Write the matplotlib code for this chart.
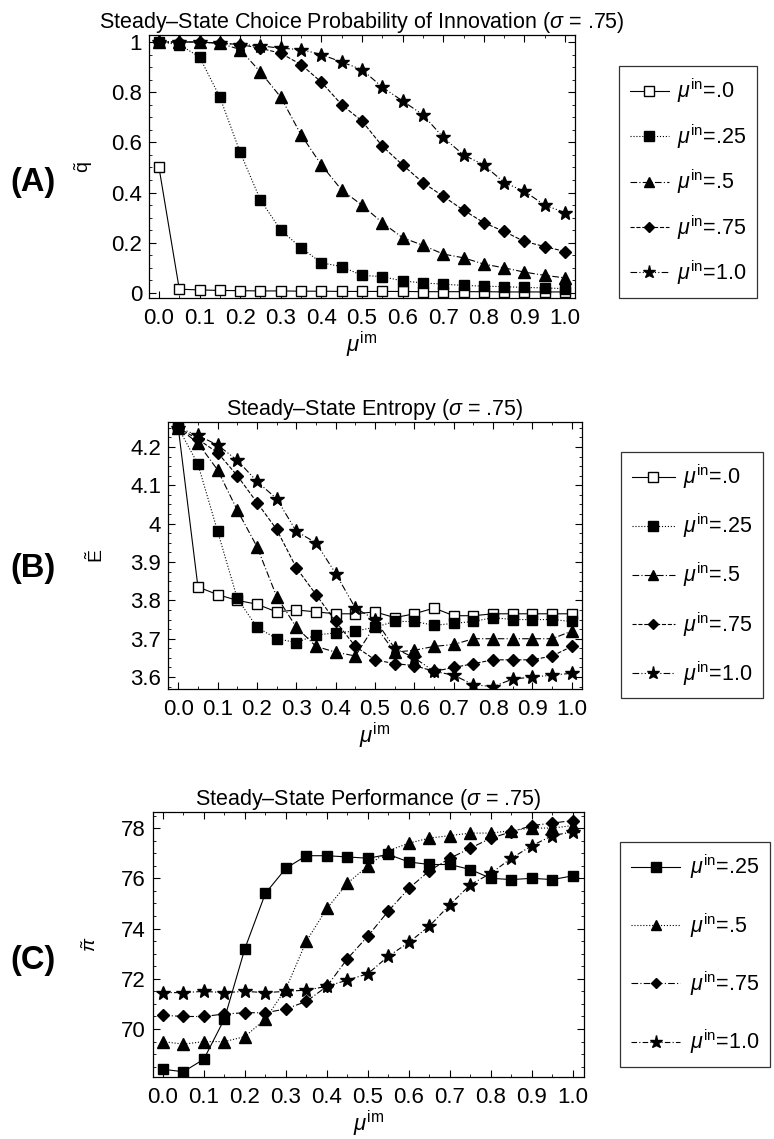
import matplotlib
matplotlib.use("Agg")
import matplotlib.pyplot as plt
from matplotlib.ticker import AutoMinorLocator, MultipleLocator

plt.rcParams['font.family'] = ['Liberation Sans', 'DejaVu Sans']
plt.rcParams['mathtext.fontset'] = 'custom'
plt.rcParams['mathtext.rm'] = 'Liberation Sans'
plt.rcParams['mathtext.it'] = 'Liberation Sans:italic'

mu_im = [0.0, 0.05, 0.1, 0.15, 0.2, 0.25, 0.3, 0.35, 0.4, 0.45, 0.5,
         0.55, 0.6, 0.65, 0.7, 0.75, 0.8, 0.85, 0.9, 0.95, 1.0]
x_ticks = [0.0, 0.1, 0.2, 0.3, 0.4, 0.5, 0.6, 0.7, 0.8, 0.9, 1.0]

# (A) choice probability of innovation
q_00 = [0.5, 0.015, 0.012, 0.01, 0.009, 0.008, 0.008, 0.007, 0.007, 0.006, 0.006,
        0.006, 0.006, 0.005, 0.005, 0.005, 0.005, 0.004, 0.004, 0.004, 0.004]
q_25 = [1.0, 0.99, 0.94, 0.78, 0.56, 0.37, 0.25, 0.18, 0.12, 0.105, 0.07,
        0.065, 0.048, 0.04, 0.035, 0.03, 0.027, 0.025, 0.022, 0.02, 0.017]
q_50 = [1.0, 1.0, 1.0, 0.995, 0.97, 0.88, 0.78, 0.63, 0.51, 0.41, 0.35,
        0.28, 0.22, 0.19, 0.155, 0.14, 0.115, 0.1, 0.083, 0.07, 0.06]
q_75 = [1.0, 1.0, 1.0, 0.995, 0.99, 0.975, 0.955, 0.91, 0.84, 0.75, 0.685,
        0.585, 0.51, 0.44, 0.385, 0.33, 0.28, 0.245, 0.205, 0.185, 0.165]
q_100 = [1.0, 1.0, 1.0, 0.995, 0.99, 0.985, 0.975, 0.97, 0.95, 0.92, 0.89,
         0.82, 0.765, 0.71, 0.62, 0.55, 0.51, 0.44, 0.405, 0.35, 0.32]

# (B) entropy
e_00 = [4.25, 3.835, 3.815, 3.80, 3.79, 3.77, 3.775, 3.77, 3.765, 3.765, 3.77,
        3.755, 3.765, 3.78, 3.76, 3.76, 3.765, 3.765, 3.765, 3.765, 3.765]
e_25 = [4.25, 4.155, 3.98, 3.805, 3.73, 3.70, 3.69, 3.71, 3.715, 3.72, 3.73,
        3.745, 3.745, 3.735, 3.74, 3.745, 3.755, 3.75, 3.75, 3.75, 3.745]
e_50 = [4.25, 4.21, 4.14, 4.035, 3.94, 3.81, 3.73, 3.68, 3.665, 3.655, 3.735,
        3.665, 3.67, 3.68, 3.685, 3.70, 3.70, 3.70, 3.70, 3.70, 3.72]
e_75 = [4.25, 4.22, 4.185, 4.125, 4.055, 3.985, 3.885, 3.815, 3.745, 3.68, 3.645,
        3.635, 3.63, 3.615, 3.625, 3.635, 3.645, 3.645, 3.645, 3.655, 3.68]
e_100 = [4.25, 4.23, 4.205, 4.165, 4.11, 4.065, 3.98, 3.95, 3.87, 3.78, 3.75,
         3.675, 3.65, 3.615, 3.605, 3.58, 3.575, 3.595, 3.60, 3.605, 3.61]

# (C) performance
p_25 = [68.4, 68.3, 68.8, 70.4, 73.2, 75.4, 76.4, 76.9, 76.9, 76.85, 76.8,
        76.95, 76.65, 76.55, 76.55, 76.35, 76.0, 75.95, 76.0, 75.95, 76.1]
p_50 = [69.5, 69.4, 69.5, 69.5, 69.7, 70.4, 71.6, 73.5, 74.8, 75.8, 76.5,
        77.1, 77.4, 77.6, 77.7, 77.8, 77.8, 77.9, 78.0, 78.0, 78.1]
p_75 = [70.55, 70.5, 70.5, 70.6, 70.65, 70.65, 70.8, 71.1, 71.7, 72.8, 73.7,
        74.7, 75.6, 76.3, 76.8, 77.2, 77.6, 77.85, 78.1, 78.2, 78.3]
p_100 = [71.45, 71.45, 71.5, 71.45, 71.5, 71.45, 71.5, 71.55, 71.7, 71.95, 72.2,
         72.9, 73.45, 74.1, 74.95, 75.75, 76.2, 76.8, 77.3, 77.7, 77.85]

lbl = lambda s: r'$\mu^{\mathrm{in}}$=' + s

fig = plt.figure(figsize=(7.74, 11.39), dpi=100)
axA = fig.add_axes([0.1925, 0.7384, 0.5504, 0.2309])
axB = fig.add_axes([0.2171, 0.3951, 0.5349, 0.2344])
axC = fig.add_axes([0.1977, 0.0544, 0.5568, 0.2327])

lw = 0.8
dashdot = (0, (6, 2, 1, 2))
dashdotdot = (0, (6, 2, 1, 2, 1, 2))
sq = dict(marker='s', markersize=7.5)
tri = dict(marker='^', markersize=8)
dia = dict(marker='D', markersize=6)
star = dict(marker='*', markersize=10.5)

def setup(ax, title, ylabel, ylx):
    ax.set_title(title + r' ($\sigma$ = .75)', fontsize=15.5, pad=5)
    ax.set_xticks(x_ticks)
    ax.set_xticklabels(['%.1f' % t for t in x_ticks])
    ax.xaxis.set_minor_locator(MultipleLocator(0.05))
    ax.yaxis.set_minor_locator(AutoMinorLocator(4))
    ax.tick_params(axis='both', direction='in', labelsize=16, length=5,
                   top=True, right=True)
    ax.tick_params(axis='x', pad=7)
    ax.tick_params(axis='y', pad=5)
    ax.tick_params(which='minor', direction='in', length=2.5, top=True, right=True)
    ax.set_ylabel(ylabel, fontsize=14)
    ax.yaxis.set_label_coords(ylx, 0.5)
    ax.set_xlabel(r'$\mu^{\mathrm{im}}$', fontsize=16, labelpad=1)
    for s in ax.spines.values():
        s.set_linewidth(0.9)

# A
axA.plot(mu_im, q_00, color='black', lw=lw, ls='-', mfc='white', label=lbl('.0'), **sq)
axA.plot(mu_im, q_25, color='black', lw=lw, ls=':', label=lbl('.25'), **sq)
axA.plot(mu_im, q_50, color='black', lw=lw, ls=dashdot, label=lbl('.5'), **tri)
axA.plot(mu_im, q_75, color='black', lw=lw, ls='--', label=lbl('.75'), **dia)
axA.plot(mu_im, q_100, color='black', lw=lw, ls=dashdotdot, label=lbl('1.0'), **star)
setup(axA, 'Steady\u2013State Choice Probability of Innovation', r'$\tilde{\mathrm{q}}$', -0.127)
axA.set_xlim(-0.0246, 1.0246)
axA.set_ylim(-0.02, 1.028)
axA.set_yticks([0, 0.2, 0.4, 0.6, 0.8, 1])
axA.set_yticklabels(['0', '0.2', '0.4', '0.6', '0.8', '1'])

# B
axB.plot(mu_im, e_00, color='black', lw=lw, ls='-', mfc='white', label=lbl('.0'), **sq)
axB.plot(mu_im, e_25, color='black', lw=lw, ls=':', label=lbl('.25'), **sq)
axB.plot(mu_im, e_50, color='black', lw=lw, ls=dashdot, label=lbl('.5'), **tri)
axB.plot(mu_im, e_75, color='black', lw=lw, ls='--', label=lbl('.75'), **dia)
axB.plot(mu_im, e_100, color='black', lw=lw, ls=dashdotdot, label=lbl('1.0'), **star)
setup(axB, 'Steady\u2013State Entropy', r'$\tilde{\mathrm{E}}$', -0.147)
axB.set_xlim(-0.026, 1.026)
axB.set_ylim(3.569, 4.265)
axB.set_yticks([3.6, 3.7, 3.8, 3.9, 4.0, 4.1, 4.2])
axB.set_yticklabels(['3.6', '3.7', '3.8', '3.9', '4', '4.1', '4.2'])

# C
axC.plot(mu_im, p_25, color='black', lw=lw, ls='-', label=lbl('.25'), **sq)
axC.plot(mu_im, p_50, color='black', lw=lw, ls=':', label=lbl('.5'), **tri)
axC.plot(mu_im, p_75, color='black', lw=lw, ls=dashdot, label=lbl('.75'), **dia)
axC.plot(mu_im, p_100, color='black', lw=lw, ls=(0, (5, 2, 1, 2)), label=lbl('1.0'), **star)
setup(axC, 'Steady\u2013State Performance', r'$\tilde{\pi}$', -0.123)
axC.set_xlim(-0.024, 1.027)
axC.set_ylim(68.09, 78.64)
axC.set_yticks([70, 72, 74, 76, 78])

leg_base = dict(loc='upper left', fontsize=15.5, frameon=True, fancybox=False,
                edgecolor='black', borderpad=0.5, borderaxespad=0, markerscale=0.9)
legs = [(axA, (619, 66), dict(handlelength=1.8, labelspacing=0.78, handletextpad=0.4)),
        (axB, (621, 452), dict(handlelength=2.0, labelspacing=0.95, handletextpad=0.4)),
        (axC, (620, 842), dict(handlelength=2.3, labelspacing=1.38, handletextpad=0.45))]
for ax, (px, py), kw in legs:
    lg = ax.legend(bbox_to_anchor=(px / 774, 1 - py / 1139),
                   bbox_transform=fig.transFigure, **leg_base, **kw)
    lg.get_frame().set_linewidth(0.9)

for txt, y in [('(A)', 182), ('(B)', 568), ('(C)', 960)]:
    fig.text(10 / 774, 1 - y / 1139, txt, fontsize=23.5, fontweight='bold', va='center')

fig.savefig('out.png', dpi=100)
